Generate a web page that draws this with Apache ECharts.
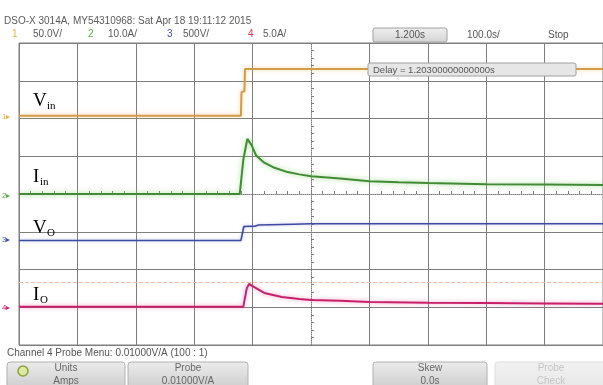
<!DOCTYPE html>
<html>
<head>
<meta charset="utf-8">
<script src="https://cdn.jsdelivr.net/npm/echarts@6/dist/echarts.min.js"></script>
<style>
  html, body { margin: 0; padding: 0; background: #fff; }
  #container { width: 603px; height: 385px; }
</style>
</head>
<body>
<div id="container"></div>
<script>
// time in screen divisions (0 = centre / trigger), level in vertical divisions
const vinTime = [-5, -1.20, -1.19, -1.14, -1.13, 5];
const vinLevel = [2.07, 2.07, 2.70, 2.72, 3.31, 3.31];

const iinTime = [-5, -1.22, -1.16, -1.09, -1.06, -1.02, -0.94, -0.80, -0.65, -0.40, -0.20, 0, 0.5, 1.0, 1.5, 2.0, 3.0, 4.0, 5.0];
const iinLevel = [0, 0, 0.90, 1.46, 1.42, 1.30, 1.02, 0.83, 0.71, 0.58, 0.52, 0.47, 0.41, 0.34, 0.31, 0.29, 0.26, 0.25, 0.24];

const voTime = [-5, -1.20, -1.15, -1.12, -0.95, -0.90, -0.30, 0, 5];
const voLevel = [-1.23, -1.23, -0.86, -0.85, -0.85, -0.82, -0.80, -0.79, -0.79];

const ioTime = [-5, -1.16, -1.10, -1.06, -1.00, -0.80, -0.50, -0.20, 0, 0.5, 1.0, 2.0, 3.0, 4.0, 5.0];
const ioLevel = [-2.99, -2.99, -2.50, -2.38, -2.44, -2.62, -2.73, -2.78, -2.81, -2.83, -2.86, -2.88, -2.89, -2.90, -2.91];

const triggerLevel = -2.33;

const headerTitle = 'DSO-X 3014A, MY54310968: Sat Apr 18 19:11:12 2015';
const channelScales = ['50.0V/', '10.0A/', '500V/', '5.0A/'];
const channelColors = ['#e6b040', '#5aa848', '#4050a8', '#d0206a'];
const traceNames = [['V', 'in'], ['I', 'in'], ['V', 'O'], ['I', 'O']];

const zip = (t, v) => t.map((x, i) => [x, v[i]]);

const gridGray = '#7e7e7e';
// centre line (index 5) is drawn dotted by the axis line instead
const splitX = Array.from({ length: 11 }, (_, i) => i === 5 ? 'rgba(0,0,0,0)' : gridGray);
const splitY = Array.from({ length: 9 }, (_, i) => i === 4 ? 'rgba(0,0,0,0)' : gridGray);

const uiFont = 'Liberation Sans';
function text(x, y, s, size, color, opts) {
  opts = opts || {};
  return {
    type: 'text', x: x, y: y, z: 100, silent: true,
    style: {
      text: s, fill: color,
      font: (opts.weight || 'normal') + ' ' + size + 'px "' + (opts.family || uiFont) + '"',
      textAlign: opts.align || 'left', align: opts.align || 'left',
      textVerticalAlign: 'middle', verticalAlign: 'middle'
    }
  };
}
function button(x, w, line1, line2, faded) {
  const top = faded ? '#f2f2f2' : '#ececec';
  const bottom = faded ? '#e6e6e6' : '#c9c9c9';
  const col = faded ? '#c4c4c4' : '#666';
  return [
    {
      type: 'rect', z: 90, silent: true,
      shape: { x: x, y: 362, width: w, height: 30, r: 3 },
      style: {
        fill: new echarts.graphic.LinearGradient(0, 0, 0, 1, [
          { offset: 0, color: top }, { offset: 1, color: bottom }
        ]),
        stroke: faded ? '#dddddd' : '#b0b0b0', lineWidth: 1
      }
    },
    text(x + w / 2, 368, line1, 10, col, { align: 'center' }),
    text(x + w / 2, 381, line2, 10, col, { align: 'center' })
  ];
}

const graphics = [];
// header
graphics.push(text(4, 21, headerTitle, 10, '#5a5a5a'));
const chanX = [12, 88, 167, 248];
const scaleX = [33, 108, 183, 263];
channelScales.forEach((s, i) => {
  graphics.push(text(chanX[i], 34, String(i + 1), 10, i === 3 ? '#e03050' : channelColors[i]));
  graphics.push(text(scaleX[i], 34, s, 10, '#5a5a5a'));
});
graphics.push({
  type: 'rect', z: 90, silent: true,
  shape: { x: 373, y: 28, width: 74, height: 14, r: 2 },
  style: {
    fill: new echarts.graphic.LinearGradient(0, 0, 0, 1, [
      { offset: 0, color: '#f0f0f0' }, { offset: 1, color: '#d4d4d4' }
    ]),
    stroke: '#a0a0a0', lineWidth: 1
  }
});
graphics.push(text(410, 35, '1.200s', 10, '#555', { align: 'center' }));
graphics.push(text(467, 35, '100.0s/', 10, '#555'));
graphics.push(text(548, 35, 'Stop', 10, '#555'));

// delay box
graphics.push({
  type: 'rect', z: 90, silent: true,
  shape: { x: 368, y: 63, width: 208, height: 13, r: 2 },
  style: { fill: '#e6e6e6', stroke: '#a0a0a0', lineWidth: 1 }
});
graphics.push(text(373, 70, 'Delay = 1.20300000000000s', 9.5, '#555'));

// trace names
const nameY = [101, 177, 228, 295];
traceNames.forEach((n, i) => {
  graphics.push(text(33, nameY[i], n[0], 19, '#000', { family: 'Liberation Serif' }));
  graphics.push(text(n[0] === 'V' ? 47 : 40, nameY[i] + 5, n[1], 11, '#000', { family: 'Liberation Serif' }));
});

// channel ground markers
const markerY = [117, 196, 240, 308];
markerY.forEach((y, i) => {
  graphics.push(text(2, y, (i + 1) + '\u25B8', 8, channelColors[i]));
});

// footer
graphics.push(text(7, 353, 'Channel 4 Probe Menu: 0.01000V/A (100 : 1)', 10, '#555'));
graphics.push(...button(7, 118, 'Units', 'Amps', false));
graphics.push({
  type: 'circle', z: 95, silent: true,
  shape: { cx: 23, cy: 371, r: 5 },
  style: { fill: '#dfe8a0', stroke: '#8aa040', lineWidth: 1.5 }
});
graphics.push(...button(128, 120, 'Probe', '0.01000V/A', false));
graphics.push(...button(373, 114, 'Skew', '0.0s', false));
graphics.push(...button(495, 112, 'Probe', 'Check', true));

const chart = echarts.init(document.getElementById('container'));
chart.setOption({
  animation: false,
  backgroundColor: '#ffffff',
  grid: {
    left: 19, right: -4, top: 43, bottom: 40,
    show: true, borderColor: gridGray, borderWidth: 1, backgroundColor: '#ffffff'
  },
  xAxis: {
    type: 'value', min: -5, max: 5, interval: 1,
    axisLine: { onZero: true, lineStyle: { color: gridGray, type: 'dotted' } },
    axisTick: { show: true, length: 3, inside: true, lineStyle: { color: gridGray } },
    minorTick: { show: true, splitNumber: 5, length: 3, lineStyle: { color: gridGray } },
    axisLabel: { show: false },
    splitLine: { show: true, lineStyle: { color: splitX, width: 1 } }
  },
  yAxis: {
    type: 'value', min: -4, max: 4, interval: 1,
    axisLine: { onZero: true, lineStyle: { color: gridGray, type: 'dotted' } },
    axisTick: { show: true, length: 3, inside: true, lineStyle: { color: gridGray } },
    minorTick: { show: true, splitNumber: 5, length: 3, lineStyle: { color: gridGray } },
    axisLabel: { show: false },
    splitLine: { show: true, lineStyle: { color: splitY, width: 1 } }
  },
  series: [
    {
      name: 'Vin', type: 'line', data: zip(vinTime, vinLevel), showSymbol: false, silent: true,
      lineStyle: { color: '#cf9c48', width: 2, shadowColor: 'rgba(240,180,90,0.6)', shadowBlur: 4 }
    },
    {
      name: 'Iin', type: 'line', data: zip(iinTime, iinLevel), showSymbol: false, silent: true,
      lineStyle: { color: '#438a38', width: 2, shadowColor: 'rgba(130,210,100,0.8)', shadowBlur: 5 }
    },
    {
      name: 'Vo', type: 'line', data: zip(voTime, voLevel), showSymbol: false, silent: true,
      lineStyle: { color: '#3e4c9e', width: 1.6, shadowColor: 'rgba(120,130,220,0.5)', shadowBlur: 3 }
    },
    {
      name: 'Io', type: 'line', data: zip(ioTime, ioLevel), showSymbol: false, silent: true,
      lineStyle: { color: '#c8206a', width: 2, shadowColor: 'rgba(230,100,160,0.6)', shadowBlur: 4 },
      markLine: {
        silent: true, symbol: 'none', label: { show: false },
        lineStyle: { color: '#efc4a8', type: 'dashed', width: 1 },
        data: [{ yAxis: triggerLevel }]
      }
    }
  ],
  graphic: graphics
});
</script>
</body>
</html>
